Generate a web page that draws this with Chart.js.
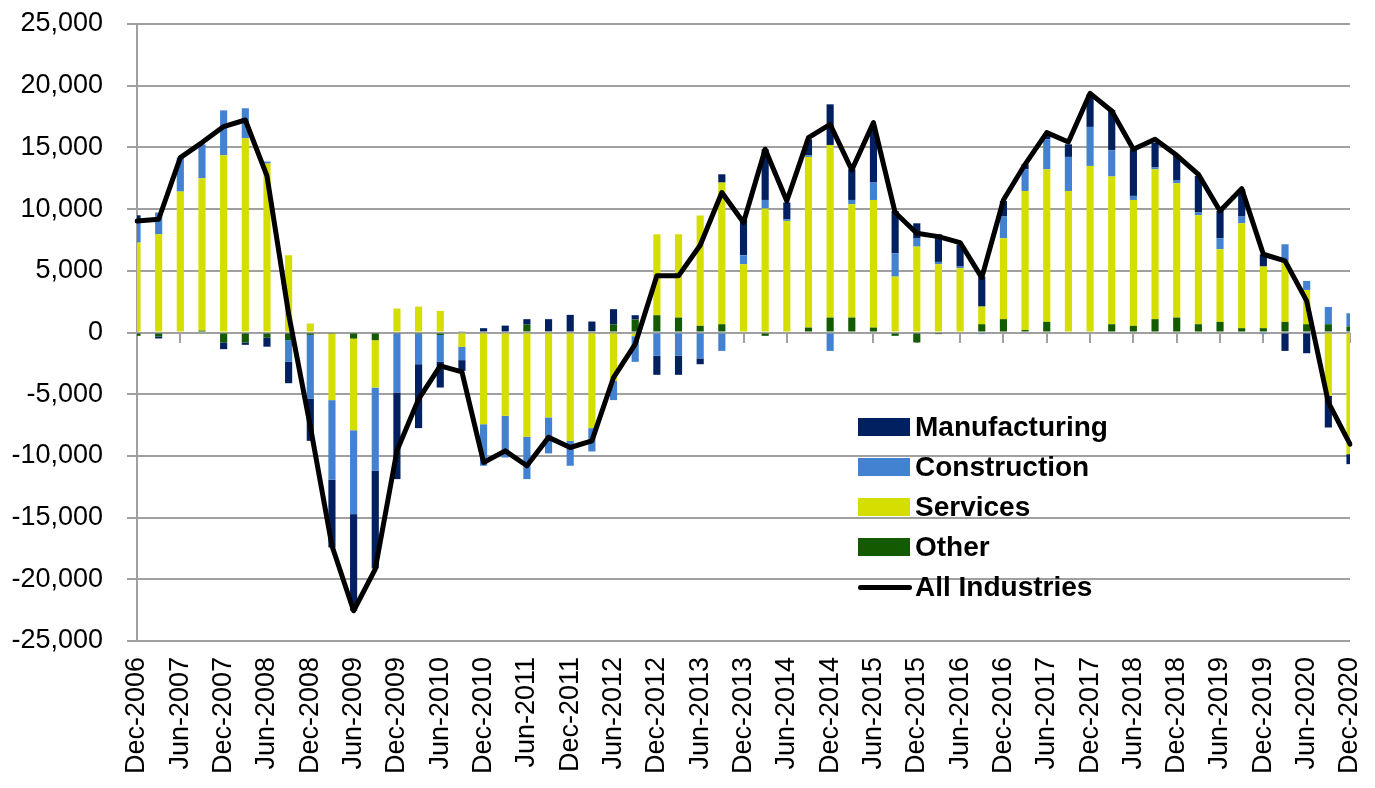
<!DOCTYPE html>
<html>
<head>
<meta charset="utf-8">
<script src="https://cdn.jsdelivr.net/npm/chart.js@4.4.1/dist/chart.umd.min.js"></script>
<style>
  html, body { margin: 0; padding: 0; background: #fff; }
  #wrap { position: relative; width: 1375px; height: 788px; }
  #legend { position: absolute; left: 858px; top: 407px; font: bold 28px "Liberation Sans", Arial, sans-serif; color: #000; }
  #legend .row { height: 40px; display: flex; align-items: center; }
  #legend .sw { width: 52px; height: 18px; margin-right: 5px; }
  #legend .ln { width: 54px; height: 5px; border-radius: 3px; background: #000; margin-right: 3px; }
</style>
</head>
<body>
<div id="wrap">
  <canvas id="chart"></canvas>
  <div id="legend"></div>
</div>
<script>
// quarterly, Dec-2006 .. Dec-2020
const quarters = [];
const monthNames = ['Mar', 'Jun', 'Sep', 'Dec'];
for (let y = 2006; y <= 2020; y++) {
  for (const m of monthNames) {
    if (y === 2006 && m !== 'Dec') continue;
    quarters.push(m + '-' + y);
  }
}

const other = [
  -270, -320, 0, 150, -810, -810, -400, -620, -190, -100,
  -490, -620, -100, -100, -200, 100, 0, 0, 640, 100,
  0, 100, 640, 1050, 1400, 1210, 540, 670, 0, -270,
  0, 400, 1210, 1210, 400, -270, -810, -130, 0, 670,
  1080, 200, 860, 0, 0, 670, 540, 1080, 1210, 670,
  860, 350, 350, 860, 670, 670, 490
];
const services = [
  7290, 7960, 11420, 12350, 14360, 15740, 13690, 6260, 730, -5380,
  -7430, -3840, 1940, 2100, 1750, -1170, -7430, -6750, -8450, -6880,
  -8780, -7750, -3920, -300, 6560, 6750, 8940, 11480, 5530, 10040,
  9040, 13830, 13990, 9180, 10340, 4530, 6960, 5530, 5210, 1430,
  6560, 11270, 12370, 11470, 13500, 11970, 10200, 12150, 10880, 8830,
  5890, 8500, 5000, 4940, 2780, -5130, -9860
];
const construction = [
  1890, 1760, 2750, 2750, 3640, 2430, 160, -1760, -5160, -6450,
  -6800, -6750, -4760, -2470, -2180, -1070, -3370, -3380, -3430, -2920,
  -2020, -1890, -1560, -2080, -1890, -1890, -2100, -1490, 730, 700,
  130, 130, -1490, 350, 1410, 1890, 650, 190, 130, -130,
  1760, 1760, 2430, 2760, 3160, 2130, 330, 150, 270, 220,
  890, 550, -130, 1350, 730, 1400, 1070
];
const manufacturing = [
  320, -160, 0, 0, -540, -190, -750, -1730, -3430, -5490,
  -7830, -7910, -7020, -5180, -2080, -870, 350, 560, 440, 980,
  1430, 790, 1250, 350, -1540, -1540, -470, 670, 2920, 4110,
  1360, 1300, 3290, 2490, 4590, 3430, 1240, 2240, 1810, 2430,
  1260, 400, 300, 1020, 2640, 3260, 3780, 2000, 2000, 2970,
  2210, 2210, 990, -1490, -1680, -2570, -810
];
const allIndustries = [
  9040, 9180, 14170, 15390, 16690, 17220, 12690, 1500, -7600, -17280,
  -22550, -19170, -9590, -5400, -2700, -3190, -10530, -9590, -10800, -8500,
  -9320, -8780, -3650, -950, 4590, 4590, 7070, 11340, 8910, 14850,
  10660, 15790, 16870, 13170, 17010, 9720, 8040, 7770, 7290, 4450,
  10740, 13630, 16200, 15440, 19380, 17950, 14850, 15660, 14360, 12820,
  9850, 11660, 6340, 5800, 2560, -5670, -9050
];

const colors = {
  manufacturing: '#002060',
  construction: '#4282d0',
  services: '#d4de00',
  other: '#135a00'
};
const gridGray = '#a0a0a0';
const tickFont = { family: '"Liberation Sans", Arial, sans-serif', size: 27 };

const barOpts = { type: 'bar', categoryPercentage: 0.33, barPercentage: 1, borderWidth: 0, order: 1 };

new Chart(document.getElementById('chart'), {
  data: {
    labels: quarters,
    datasets: [
      { ...barOpts, label: 'Other', data: other, backgroundColor: colors.other },
      { ...barOpts, label: 'Services', data: services, backgroundColor: colors.services },
      { ...barOpts, label: 'Construction', data: construction, backgroundColor: colors.construction },
      { ...barOpts, label: 'Manufacturing', data: manufacturing, backgroundColor: colors.manufacturing },
      {
        type: 'line', label: 'All Industries', data: allIndustries, stack: 'total', order: 0,
        borderColor: '#000', borderWidth: 5, tension: 0, pointRadius: 0,
        borderJoinStyle: 'round', borderCapStyle: 'round', fill: false
      }
    ]
  },
  options: {
    responsive: true,
    maintainAspectRatio: false,
    animation: false,
    layout: { padding: 0 },
    plugins: { legend: { display: false }, tooltip: { enabled: false } },
    scales: {
      x: {
        type: 'category', stacked: true, offset: false,
        grid: { display: false, drawTicks: false },
        border: { display: false },
        ticks: {
          autoSkip: false, minRotation: 90, maxRotation: 90, padding: 16,
          color: '#000', font: tickFont,
          callback: function (v, i) { return i % 2 === 0 ? this.getLabelForValue(v) : ''; }
        },
        afterFit: (s) => { s.height = 147; s.paddingRight = 25; s.paddingLeft = 0; }
      },
      xZero: {
        type: 'category', axis: 'x', position: { y: 0 }, offset: false,
        ticks: { display: false, autoSkip: false },
        border: { display: false },
        grid: {
          drawOnChartArea: false, drawTicks: true, tickLength: 10, lineWidth: 2,
          tickColor: (ctx) => ctx.index % 2 === 0 ? gridGray : 'rgba(0,0,0,0)'
        }
      },
      y: {
        stacked: true, min: -25000, max: 25000,
        grid: { color: gridGray, lineWidth: 2, tickLength: 10, tickColor: gridGray },
        border: { display: true, color: gridGray, width: 2 },
        ticks: {
          stepSize: 5000, padding: 24, color: '#000', font: tickFont,
          callback: (v) => v.toLocaleString('en-US')
        },
        afterFit: (s) => { s.width = 137; s.paddingTop = 24; s.paddingBottom = 0; }
      }
    }
  }
});

// legend, same order as the reference
const legendItems = [
  { label: 'Manufacturing', color: colors.manufacturing },
  { label: 'Construction', color: colors.construction },
  { label: 'Services', color: colors.services },
  { label: 'Other', color: colors.other },
  { label: 'All Industries', line: true }
];
document.getElementById('legend').innerHTML = legendItems.map(it =>
  '<div class="row">' +
  (it.line ? '<span class="ln"></span>' : '<span class="sw" style="background:' + it.color + '"></span>') +
  '<span>' + it.label + '</span></div>'
).join('');
</script>
</body>
</html>
